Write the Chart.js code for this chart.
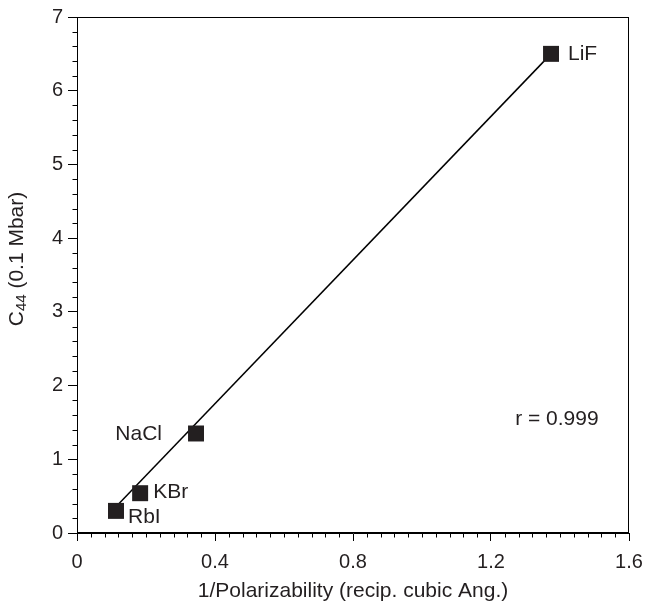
<!DOCTYPE html>
<html lang="en">
<head>
    <meta charset="UTF-8">
    <title>C44 vs 1/Polarizability</title>
    <script src="https://cdn.jsdelivr.net/npm/chart.js"></script>
    <style>
        html, body { margin: 0; padding: 0; background: #fff; }
        #wrap { width: 647px; height: 614px; }
    </style>
</head>
<body>
    <div id="wrap"><canvas id="chart" width="647" height="614"></canvas></div>
    <script>
        // salts and their values
        const salts = ['LiF', 'NaCl', 'KBr', 'RbI'];
        const invPolar = [1.374, 0.345, 0.183, 0.113];
        const c44 = [6.50, 1.35, 0.54, 0.30];

        // fitted line (end points)
        const fitX = [0.122, 1.374];
        const fitY = [0.40, 6.50];

        const xTicks = [0, 0.4, 0.8, 1.2, 1.6];
        const yTicks = [0, 1, 2, 3, 4, 5, 6, 7];
        const rText = 'r = 0.999';

        const FONT = '"Liberation Sans", Arial, Helvetica, sans-serif';
        const INK = '#231f20';

        // where each name sits next to its square (pixels)
        const labelPos = {
            LiF: { dx: 17, dy: 0, align: 'left' },
            NaCl: { dx: -34, dy: 1, align: 'right' },
            KBr: { dx: 13, dy: -1, align: 'left' },
            RbI: { dx: 12, dy: 6, align: 'left' }
        };

        const extras = {
            id: 'extras',
            afterDraw(chart) {
                const ctx = chart.ctx;
                const a = chart.chartArea;
                const xs = chart.scales.x;
                const ys = chart.scales.y;
                ctx.save();
                ctx.strokeStyle = '#000';
                ctx.lineWidth = 1;

                // box round the plot
                const l = Math.round(a.left) + 0.5, r = Math.round(a.right) - 0.5;
                const t = Math.round(a.top) + 0.5, b = Math.round(a.bottom) - 0.5;
                ctx.strokeRect(l, t, r - l, b - t);

                // minor ticks
                ctx.beginPath();
                for (let i = 1; i < 40; i++) {
                    if (i % 10 === 0) continue;
                    const px = Math.round(xs.getPixelForValue(i * 0.04)) + 0.5;
                    ctx.moveTo(px, b);
                    ctx.lineTo(px, b + 5);
                }
                for (let i = 1; i < 35; i++) {
                    if (i % 5 === 0) continue;
                    const py = Math.round(ys.getPixelForValue(i * 0.2)) + 0.5;
                    ctx.moveTo(l, py);
                    ctx.lineTo(l - 5, py);
                }
                ctx.stroke();

                // point names
                ctx.fillStyle = INK;
                ctx.font = '21px ' + FONT;
                ctx.textBaseline = 'middle';
                salts.forEach((s, i) => {
                    const p = labelPos[s];
                    ctx.textAlign = p.align;
                    ctx.fillText(s, xs.getPixelForValue(invPolar[i]) + p.dx, ys.getPixelForValue(c44[i]) + p.dy);
                });
                ctx.textAlign = 'left';
                ctx.fillText(rText, xs.getPixelForValue(1.27), ys.getPixelForValue(1.55));

                // axis titles
                ctx.textAlign = 'center';
                ctx.fillText('1/Polarizability (recip. cubic Ang.)', (a.left + a.right) / 2, 591);

                ctx.translate(17, 259);
                ctx.rotate(-Math.PI / 2);
                const big = '21px ' + FONT, small = '15px ' + FONT;
                ctx.font = big;
                const w1 = ctx.measureText('C').width;
                const w3 = ctx.measureText(' (0.1 Mbar)').width;
                ctx.font = small;
                const w2 = ctx.measureText('44').width;
                let x0 = -(w1 + w2 + w3) / 2;
                ctx.textAlign = 'left';
                ctx.font = big;
                ctx.fillText('C', x0, 0);
                ctx.font = small;
                ctx.fillText('44', x0 + w1, 5);
                ctx.font = big;
                ctx.fillText(' (0.1 Mbar)', x0 + w1 + w2, 0);
                ctx.restore();
            }
        };

        const ctx = document.getElementById('chart').getContext('2d');
        new Chart(ctx, {
            type: 'scatter',
            data: {
                datasets: [
                    {
                        label: 'fit',
                        data: fitX.map((x, i) => ({ x, y: fitY[i] })),
                        showLine: true,
                        borderColor: '#000',
                        borderWidth: 1.5,
                        pointRadius: 0,
                        order: 2
                    },
                    {
                        label: 'C44',
                        data: invPolar.map((x, i) => ({ x, y: c44[i] })),
                        pointStyle: 'rect',
                        pointRadius: 11.3,
                        backgroundColor: INK,
                        borderColor: INK,
                        borderWidth: 0,
                        order: 1
                    }
                ]
            },
            options: {
                responsive: false,
                animation: false,
                events: [],
                layout: { padding: { left: 0, top: 15, right: 18, bottom: 0 } },
                plugins: {
                    legend: { display: false },
                    tooltip: { enabled: false }
                },
                scales: {
                    x: {
                        type: 'linear',
                        min: 0,
                        max: 1.6,
                        afterFit(scale) { scale.height = 81; },
                        afterBuildTicks(scale) { scale.ticks = xTicks.map(v => ({ value: v })); },
                        ticks: {
                            color: INK,
                            font: { family: FONT, size: 20, lineHeight: 1.8 },
                            padding: 3,
                            maxRotation: 0,
                            callback: v => String(v)
                        },
                        grid: { drawOnChartArea: false, drawTicks: true, tickLength: 8, color: '#000' },
                        border: { display: true, color: '#000', width: 1 }
                    },
                    y: {
                        type: 'linear',
                        min: 0,
                        max: 7,
                        afterFit(scale) { scale.width = 77; },
                        afterBuildTicks(scale) { scale.ticks = yTicks.map(v => ({ value: v })); },
                        ticks: {
                            color: INK,
                            font: { family: FONT, size: 20 },
                            padding: 5,
                            callback: v => String(v)
                        },
                        grid: { drawOnChartArea: false, drawTicks: true, tickLength: 9, color: '#000' },
                        border: { display: true, color: '#000', width: 1 }
                    }
                }
            },
            plugins: [extras]
        });
    </script>
</body>
</html>
